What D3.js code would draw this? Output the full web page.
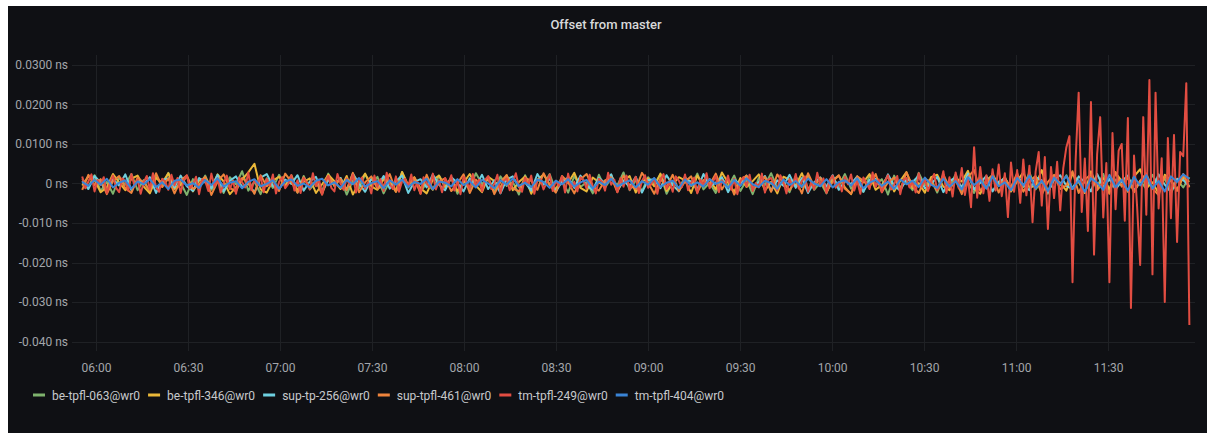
<!DOCTYPE html>
<html><head><meta charset="utf-8">
<script src="https://cdn.jsdelivr.net/npm/d3@7"></script>
<style>
html,body{margin:0;padding:0;background:#ffffff;}
svg{display:block;font-family:Roboto,"Noto Sans",sans-serif;}
</style></head><body>
<svg id="chart" width="1207" height="433"></svg>
<script>
// ---- data (values in picoseconds: 1 ps = 0.001 ns) ----
const chartTitle = "Offset from master";
const seriesNames = ["be-tpfl-063@wr0","be-tpfl-346@wr0","sup-tp-256@wr0","sup-tpfl-461@wr0","tm-tpfl-249@wr0","tm-tpfl-404@wr0"];
const seriesColors = ["#7EB26D","#EAB839","#6ED0E0","#EF843C","#E24D42","#3A84D6"];
const yTickValues = [30,20,10,0,-10,-20,-30,-40];
const yTickLabels = ["0.0300 ns","0.0200 ns","0.0100 ns","0 ns","-0.010 ns","-0.020 ns","-0.030 ns","-0.040 ns"];
const xTickLabels = ["06:00","06:30","07:00","07:30","08:00","08:30","09:00","09:30","10:00","10:30","11:00","11:30"];
const rangeStart = "05:52:10", rangeEnd = "11:58:20";
const dataStart = "05:55:30", dataEnd = "11:56:30";

const be063 = [
1.2,-0.8,2.1,-1.9,0.4,-2.6,1.5,-0.3,2.4,-1.7,
0.9,-2.2,1.8,-0.6,2.7,-1.4,0.2,-2.9,1.1,-0.9,
2.0,-1.6,0.7,-2.4,1.6,-0.2,3.1,-1.8,0.5,-2.7,
1.3,-1.1,2.2,-0.5,1.0,-2.3,1.9,-1.5,0.3,-2.0,
2.5,-0.7,1.4,-2.8,0.8,-1.2,2.3,-0.4,1.7,-2.5,
0.6,-1.9,2.9,-1.0,1.2,-2.1,0.1,-1.6,2.0,-0.8,
1.5,-2.6,0.9,-1.3,2.6,-0.1,1.1,-2.2,1.8,-0.6,
0.4,-2.8,2.1,-1.4,1.0,-0.3,2.4,-1.9,0.7,-2.3,
1.9,-0.9,0.3,-2.5,2.2,-1.1,1.4,-0.5,2.8,-1.7,
0.8,-2.0,1.6,-0.2,2.3,-2.6,0.5,-1.3,1.7,-0.7,
2.5,-1.5,0.2,-2.4,1.3,-0.8,2.0,-1.9,0.9,-2.7,
1.4,-0.4,2.6,-1.2,0.6,-2.2,1.8,-0.9,2.2,-1.6,
0.3,-2.5,1.5,-0.6,2.4,-1.3,0.8,-2.1,1.9,-0.3,
1.1,-2.8,2.0,-1.0,0.5,-1.7,2.7,-0.5,1.2,-2.3,
1.6,-0.7,2.3,-1.8,0.4,-2.4,1.9,-1.1,2.5,-0.6,
0.9,-2.0,1.4,-0.9,2.8,-1.5,0.6,-2.6,1.7,-0.4,
2.1,-1.2,0.8,-2.3,1.5,-0.8,2.4,-1.9,1.0,-0.5,
1.8,-2.1,0.7,-1.4,2.2,-0.6,1.3,-2.5,0.9,-1.0,
1.6];
const be346 = [
-0.5,1.8,0.9,-2.2,-1.0,2.4,0.3,-1.7,1.2,2.0,
-0.8,-2.5,1.4,0.2,2.6,-1.3,-0.4,1.9,-2.0,0.7,
1.5,-1.1,2.3,0.5,-2.7,-0.9,1.0,2.8,5.0,-1.5,
-2.3,0.8,1.7,-0.6,2.1,-1.8,0.4,1.3,-2.4,-0.2,
2.2,0.6,-1.4,1.9,-2.8,0.1,2.5,-0.7,-1.6,1.1,
0.3,-2.1,2.9,-0.4,1.6,-1.2,-2.5,0.9,2.0,-0.9,
1.4,-1.9,0.2,2.4,-0.5,-2.2,1.7,0.6,-1.0,2.1,
-1.7,0.4,1.8,-2.6,0.9,2.3,-0.3,-1.4,1.2,0.1,
2.7,-1.1,-2.0,1.5,0.3,-0.8,2.2,-1.6,0.7,1.9,
-2.3,0.5,1.3,-0.7,2.5,-1.9,-0.2,1.6,0.8,-2.4,
2.0,-0.6,1.1,-1.5,2.8,0.2,-2.1,1.4,-0.9,0.6,
2.3,-1.8,0.4,-2.5,1.7,1.0,-0.5,2.6,-1.3,-0.1,
1.5,-2.2,0.8,2.0,-1.0,-2.7,1.2,0.3,2.4,-1.6,
-0.4,1.9,-2.0,0.7,2.9,-1.2,0.1,-2.3,1.6,2.2,
-0.8,-1.7,1.3,0.5,3.2,-1.4,-2.6,0.9,2.1,-0.3,
1.7,-2.0,0.6,2.8,-1.1,-0.5,3.4,-2.2,1.0,0.2,
-1.8,2.5,0.4,-2.4,3.1,-0.9,1.4,-1.5,2.7,0.6,
-2.1,1.8,3.6,-1.2,0.3,-2.5,2.2,0.9,-1.6,1.5,
0.4];
const sup256 = [
0.6,-1.4,1.9,0.2,-2.1,1.1,-0.5,2.3,-1.7,0.8,
-0.2,1.6,-2.4,0.9,1.3,-1.0,2.0,-0.7,-1.9,1.4,
0.3,-1.2,2.2,-2.0,0.7,1.8,-0.9,0.1,-2.3,1.5,
2.4,-0.6,-1.5,1.0,-0.1,2.1,-1.8,0.5,1.7,-2.2,
0.9,-0.4,1.4,-1.6,2.5,0.0,-2.1,1.2,-0.8,1.9,
-1.3,0.6,2.0,-2.4,0.4,1.1,-1.0,2.3,-0.3,-1.7,
1.6,0.2,-2.0,1.3,-0.6,2.2,-1.4,0.8,-2.5,1.0,
1.8,-0.9,0.3,-1.8,2.4,-0.2,1.2,-2.1,0.6,1.5,
-1.1,2.0,-0.5,-1.6,1.4,0.1,2.3,-1.9,0.7,-0.8,
1.7,-2.3,0.9,1.1,-1.2,2.1,-0.4,-2.0,1.3,0.5,
-1.5,2.4,-0.7,0.2,1.6,-2.2,1.0,-0.3,2.0,-1.4,
0.4,1.9,-1.9,0.8,-0.6,2.2,-1.1,1.4,-2.4,0.3,
1.5,-0.8,2.1,-1.6,0.6,-0.1,1.8,-2.1,0.9,1.2,
-1.3,2.3,-0.5,-1.8,1.1,0.4,2.0,-1.2,-0.2,1.7,
-2.2,0.7,1.4,-0.9,2.5,-1.5,0.2,1.9,-2.0,0.5,
1.3,-1.1,2.2,-0.4,-1.7,1.6,0.8,-2.3,1.0,2.1,
-0.6,-1.4,1.8,0.3,-2.0,2.4,-0.9,1.1,-1.5,0.6,
2.0,-1.8,0.4,1.5,-1.2,2.3,-0.3,-2.2,1.2,0.9,
-0.7];
const sup461 = [
-1.6,2.2,-0.4,1.1,-2.7,0.6,1.9,-1.2,-2.4,1.5,
0.2,-1.8,2.6,-0.9,1.3,-2.5,0.8,2.0,-1.4,-0.3,
1.7,-2.9,0.5,2.3,-1.1,-2.0,1.4,0.1,-2.6,2.1,
-0.7,1.0,-1.9,2.5,0.4,-2.3,1.6,-1.0,0.7,-2.8,
2.0,-0.5,1.2,-1.7,2.7,-2.2,0.3,1.8,-1.3,-0.6,
2.4,-2.1,0.9,-0.2,1.5,-2.6,2.2,-1.5,0.6,1.3,
-1.9,0.0,2.3,-2.4,1.0,-0.8,1.7,-2.7,0.4,2.1,
-1.2,-2.0,1.4,0.7,-1.6,2.6,-0.4,-2.3,1.9,0.3,
-2.5,1.1,2.4,-0.9,-1.8,0.8,1.6,-2.2,2.0,-0.5,
-1.4,2.7,0.2,-2.6,1.3,-1.0,2.2,-1.9,0.5,1.8,
-2.3,0.9,-0.3,2.5,-1.5,1.2,-2.8,0.6,2.0,-1.1,
-0.6,1.7,-2.1,2.3,0.1,-1.7,1.0,-2.5,2.6,-0.8,
1.4,-2.0,0.4,2.1,-1.3,-2.6,1.8,0.7,-1.0,2.4,
-2.2,0.3,1.5,-1.6,2.8,-0.7,-2.4,1.1,0.5,-1.8,
2.3,-1.2,0.8,-2.7,1.6,3.4,-1.9,0.2,2.0,-2.3,
1.2,-0.9,2.6,-2.1,0.6,1.9,-2.8,0.4,2.2,-1.4,
-0.5,3.1,-2.4,1.0,2.3,-1.7,0.3,-2.6,2.9,-0.8,
1.5,-2.2,0.7,2.5,-1.3,-2.9,1.8,0.6,-1.9,2.4,
-1.0];
const tm249 = [
1.8,-1.2,0.5,2.3,-2.0,0.9,-0.4,1.6,-2.5,0.2,
2.0,-1.1,-2.2,1.3,0.6,-1.8,2.4,-0.7,1.0,-2.6,
0.3,1.9,-1.5,2.6,-0.9,-2.1,1.2,0.4,-1.6,2.2,
-0.5,1.4,-2.4,0.8,2.1,-1.3,-0.2,1.7,-2.7,1.1,
0.6,-1.9,2.5,-0.8,1.3,-2.3,0.1,2.0,-1.4,0.7,
-2.6,1.5,0.3,-1.0,2.8,-1.7,0.9,-0.3,1.8,-2.2,
1.2,-0.6,2.3,-2.5,0.4,1.6,-1.2,-0.1,2.1,-1.8,
0.8,-2.4,1.4,0.2,-1.5,2.6,-0.7,1.0,-2.8,0.5,
1.9,-1.1,-2.0,2.4,0.0,-1.6,1.3,-0.4,2.2,-2.3,
0.7,1.5,-1.3,0.3,-2.5,2.0,-0.8,1.1,-1.9,2.7,
-0.2,-1.4,1.8,-2.1,0.6,1.2,-0.9,2.3,-1.7,0.4,
-2.6,1.6,0.1,-1.0,2.5,-1.5,0.8,-2.2,1.4,-0.3,
2.1,-1.8,0.5,-2.7,1.7,0.2,-1.2,2.4,-0.6,1.0,
-2.0,0.9,1.9,-1.4,-0.1,2.2,-2.4,0.6,1.3,-1.7,
0.3,2.6,-0.9,-2.1,1.5,-0.4,2.0,-2.6,0.8,1.1,
-1.5,0.2,2.3,-1.9,0.7,-0.6,1.8,-2.3,2.5,-1.0,
0.4,-2.0,1.6,0.9,-1.3,2.2,-0.7,-2.5,1.2,0.5,
-1.8,2.7,-0.3,1.0,-2.2,1.4,-0.8,2.0,-1.6,0.1,
1.7,-2.4,0.6,2.1,-1.1,-0.2,1.3,-2.6,0.9,2.4,
-1.4,0.3,-2.1,1.8,0.7,-0.9,2.3,-1.7,0.2,1.5,
-2.5,1.0,-0.5,2.6,-1.2,0.4,1.9,-2.2,0.8,-0.3,
2.0,-1.6,1.2,-2.7,0.5,1.6,-0.8,2.2,-1.9,0.1,
-1.0,2.5,-2.3,0.9,1.4,-0.4,-1.8,2.1,0.3,-2.5,
1.1,-0.7,2.4,-1.3,0.6,1.8,-2.1,0.2,-1.5,2.7,
-0.6,1.3,-2.4,0.8,2.0,-1.1,0.4,-2.0,1.7,-0.2,
2.3,-1.8,0.7,-2.6,1.5,0.1,-1.4,2.8,-0.9,1.0,
-2.2,0.5,2.1,-1.5,-0.3,1.9,-2.7,0.9,1.4,-1.0,
0.6,-2.3,2.6,-0.8,1.2,-1.9,0.3,2.4,-1.6,-0.4,
3.1,-2.4,1.6,-3.3,2.8,-1.2,3.9,-2.9,1.4,-6.0,
9.2,-3.6,4.2,-2.5,2.1,-4.4,3.6,-1.8,4.8,-3.2,
2.6,-8.5,5.3,-2.1,3.4,-4.9,6.1,-3.0,4.5,-9.8,
3.0,8.0,-5.6,6.7,-11.5,4.2,-3.7,5.5,-6.8,3.9,
9.2,12.0,-25.0,5.8,23.0,-7.2,6.3,-12.0,20.6,-18.0,
7.4,16.8,-8.6,5.2,-25.0,12.8,-6.5,8.3,10.0,-9.4,
16.6,-31.5,7.1,-5.8,-20.6,16.8,-7.9,26.2,-23.0,23.0,
-6.3,6.4,-30.0,11.5,-8.8,12.3,-14.8,8.0,6.9,25.4,
-35.8];
const tm404 = [
0.4,-0.6,0.9,-0.3,1.2,-1.0,0.2,0.8,-1.3,0.5,
-0.2,1.1,-0.9,0.3,-1.4,0.7,1.0,-0.5,0.1,-1.1,
0.9,-0.4,1.3,-0.8,0.2,0.6,-1.2,0.4,1.1,-0.7,
-0.1,0.8,-1.3,0.5,1.0,-0.6,0.0,-1.0,0.7,1.2,
-0.5,0.3,-1.1,0.9,-0.2,1.4,-0.8,0.1,0.6,-1.2,
0.8,-0.3,1.0,-0.9,0.4,-0.1,1.2,-1.4,0.5,0.2,
-0.7,1.1,-0.4,0.6,-1.0,0.9,0.0,-1.2,0.8,-0.3,
1.3,-0.6,0.2,-0.9,1.0,0.4,-1.1,0.7,-0.2,1.1,
-0.8,0.3,0.9,-1.3,0.5,-0.4,1.2,-0.7,0.1,0.8,
-1.0,0.6,-0.3,1.4,-0.9,0.2,0.7,-1.2,1.0,-0.5,
0.3,-0.8,1.1,-0.1,0.5,-1.1,0.9,-0.6,1.3,-0.2,
-0.9,0.7,0.1,-1.3,1.0,-0.4,0.6,-0.8,1.2,0.0,
-0.7,1.1,-1.0,0.4,0.8,-0.5,1.3,-1.2,0.2,0.9,
-0.6,0.5,-1.4,1.0,-0.2,0.7,-0.9,1.5,-0.3,-1.1,
1.2,-0.8,0.6,-1.5,1.6,-0.4,0.9,-1.3,1.8,-0.7,
0.3,-1.7,1.4,-0.5,2.0,-1.2,0.7,-1.9,1.5,-0.2,
1.9,-1.4,0.8,-2.1,1.3,0.2,-1.6,2.2,-0.9,1.0,
-1.8,1.7,-0.5,2.1,-1.3,0.6,-2.0,1.8,0.4,2.3,
1.2];
const seriesValues = [be063, be346, sup256, sup461, tm249, tm404];

// ---- layout ----
const W = 1207, H = 433;
const plot = {left: 72, right: 1195, top: 55.1, bottom: 351.4};
const parseT = d3.timeParse("%Y-%m-%d %H:%M:%S");
const T = s => parseT("2021-03-01 " + (s.length === 5 ? s + ":00" : s));

const svg = d3.select("#chart");
svg.append("rect").attr("x", 8).attr("y", 6).attr("width", W - 8).attr("height", H - 6).attr("fill", "#0f1014");

const x = d3.scaleTime().domain([T(rangeStart), T(rangeEnd)]).range([plot.left, plot.right]);
const y = d3.scaleLinear().domain([-42.5, 32.5]).range([plot.bottom, plot.top]);
const xTickDates = xTickLabels.map(T);

// grid
const grid = svg.append("g").attr("stroke", "#1f2125").attr("stroke-width", 1).attr("shape-rendering", "crispEdges");
grid.selectAll("line.h").data(yTickValues).join("line").attr("class", "h")
  .attr("x1", plot.left).attr("x2", plot.right).attr("y1", d => Math.round(y(d)) + 0.5).attr("y2", d => Math.round(y(d)) + 0.5);
grid.selectAll("line.v").data(xTickDates).join("line").attr("class", "v")
  .attr("y1", plot.top).attr("y2", plot.bottom).attr("x1", d => Math.round(x(d)) + 0.5).attr("x2", d => Math.round(x(d)) + 0.5);

// axes
const yAxis = svg.append("g").attr("transform", `translate(${plot.left},0)`)
  .call(d3.axisLeft(y).tickValues(yTickValues).tickFormat((d, i) => yTickLabels[i]).tickSize(0).tickPadding(4));
const xAxis = svg.append("g").attr("transform", `translate(0,${plot.bottom})`)
  .call(d3.axisBottom(x).tickValues(xTickDates).tickFormat((d, i) => xTickLabels[i]).tickSize(0).tickPadding(12));
[yAxis, xAxis].forEach(g => {
  g.select(".domain").remove();
  g.selectAll("text").attr("fill", "#a3a6ab").style("font-size", "12px").style("font-family", "Roboto, 'Noto Sans', sans-serif");
});

// title
svg.append("text").attr("x", 606).attr("y", 29).attr("text-anchor", "middle")
  .attr("fill", "#d8d9da").style("font-size", "13px").style("font-weight", 500).text(chartTitle);

// series
svg.append("clipPath").attr("id", "clip").append("rect")
  .attr("x", plot.left).attr("y", plot.top - 2).attr("width", plot.right - plot.left).attr("height", plot.bottom - plot.top + 4);
const t0 = T(dataStart).getTime(), t1 = T(dataEnd).getTime();
const line = d3.line().x(d => x(d.t)).y(d => y(d.v));
const lines = svg.append("g").attr("clip-path", "url(#clip)");
seriesValues.forEach((vals, k) => {
  const pts = vals.map((v, i) => ({t: new Date(t0 + (t1 - t0) * i / (vals.length - 1)), v}));
  lines.append("path").datum(pts).attr("d", line).attr("fill", "none")
    .attr("stroke", seriesColors[k]).attr("stroke-width", 2).attr("stroke-linejoin", "round");
});

// legend
const legend = svg.append("g").attr("transform", "translate(0,395)");
let lx = 33;
seriesNames.forEach((name, k) => {
  legend.append("rect").attr("x", lx).attr("y", -1.5).attr("width", 12).attr("height", 3).attr("fill", seriesColors[k]);
  const t = legend.append("text").attr("x", lx + 19).attr("y", 4.5).attr("fill", "#c7c9cc")
    .style("font-size", "12px").text(name);
  lx += 19 + t.node().getComputedTextLength() + 8;
});
</script>
</body></html>
